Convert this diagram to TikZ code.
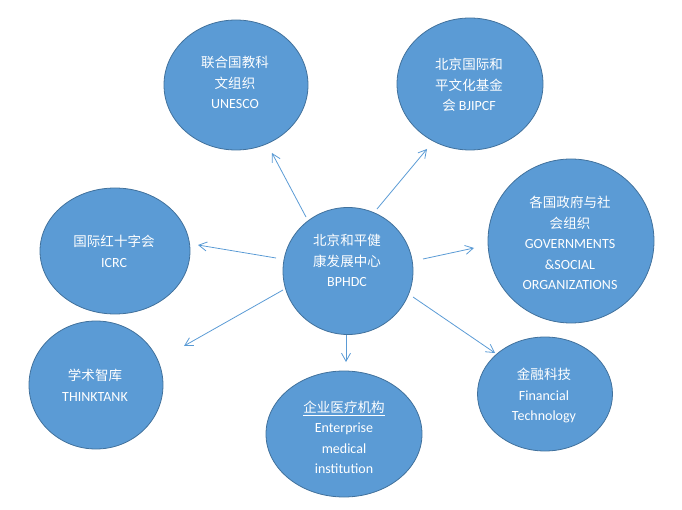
\documentclass[tikz,border=0pt]{standalone}
\usepackage{fontspec}
\setmainfont{Carlito}
\newfontfamily\cjk[Scale=0.965]{Noto Sans CJK SC}
\usetikzlibrary{shapes.geometric,arrows.meta}
\definecolor{fillblue}{HTML}{5B9BD5}
\definecolor{edgeblue}{HTML}{41719C}
\definecolor{arrblue}{HTML}{5B9BD5}
\tikzset{
  bubble/.style={ellipse, fill=fillblue, draw=edgeblue, line width=0.8pt, inner sep=0pt},
  txt/.style={text=white, align=center, font=\fontsize{14}{20.5}\selectfont, inner sep=0pt},
  arr/.style={draw=arrblue, line width=0.8pt, -{Straight Barb[length=8pt,width=9pt,line width=0.8pt]}}
}
\begin{document}
\begin{tikzpicture}[x=1pt,y=-1pt]
\useasboundingbox (0,0) rectangle (682,510);
% bubbles
\node[bubble, minimum width=130, minimum height=127] (c) at (348,271) {};
\node[bubble, minimum width=144, minimum height=130] (un) at (236,85) {};
\node[bubble, minimum width=146, minimum height=132] (bj) at (470,84) {};
\node[bubble, minimum width=166, minimum height=164] (gov) at (571,241) {};
\node[bubble, minimum width=150, minimum height=126] (icrc) at (115,251) {};
\node[bubble, minimum width=134, minimum height=128] (tt) at (96,385) {};
\node[bubble, minimum width=156, minimum height=126] (ent) at (344,434) {};
\node[bubble, minimum width=135, minimum height=114] (fin) at (545,394) {};
% texts
\node[txt] (ct) at (347,260.5) {{\cjk 北京和平健}\\{\cjk 康发展中心}\\BPHDC};
\node[txt] (unt) at (235,82.5) {{\cjk 联合国教科}\\{\cjk 文组织}\\UNESCO};
\node[txt] (bjt) at (469,85) {{\cjk 北京国际和}\\{\cjk 平文化基金}\\{\cjk 会} BJIPCF};
\node[txt] (govt) at (570,243) {{\cjk 各国政府与社}\\{\cjk 会组织}\\GOVERNMENTS\\\&SOCIAL\\ORGANIZATIONS};
\node[txt] (icrct) at (114,251.5) {{\cjk 国际红十字会}\\ICRC};
\node[txt] (ttt) at (95,385.5) {{\cjk 学术智库}\\THINKTANK};
\node[txt] (entt) at (344,437.5) {\underline{\cjk 企业医疗机构}\\Enterprise\\medical\\institution};
\node[txt] (fint) at (544,395.5) {{\cjk 金融科技}\\Financial\\Technology};
% connector end points
\coordinate (s1) at (306,217); \coordinate (e1) at (272,153);
\coordinate (s2) at (377,209); \coordinate (e2) at (427,149);
\coordinate (s3) at (276,258); \coordinate (e3) at (198,245);
\coordinate (s4) at (283,290); \coordinate (e4) at (184,346);
\coordinate (s5) at (346,335); \coordinate (e5) at (346,362);
\coordinate (s6) at (413,297); \coordinate (e6) at (495,353);
\coordinate (s7) at (423,259); \coordinate (e7) at (474,248);
\draw[arr] (s1) -- (e1);
\draw[arr] (s2) -- (e2);
\draw[arr] (s3) -- (e3);
\draw[arr] (s4) -- (e4);
\draw[arr] (s5) -- (e5);
\draw[arr] (s6) -- (e6);
\draw[arr] (s7) -- (e7);
\end{tikzpicture}
\end{document}
